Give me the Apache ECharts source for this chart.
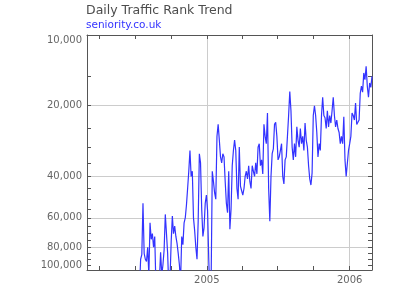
<!DOCTYPE html>
<html><head><meta charset="utf-8">
<script src="https://cdn.jsdelivr.net/npm/echarts@6/dist/echarts.min.js"></script>
<style>html,body{margin:0;padding:0;background:#fff}#c{width:400px;height:287px}</style>
</head><body><div id="c"></div>
<script>
const titleText = 'Daily Traffic Rank Trend';
const siteName = 'seniority.co.uk';
const startDate = [2004, 6, 10];   // 2004-07-10 (month is 0-based)
const stepDays = 3;
const ranks = [
140000,120000,90000,86000,52000,85000,90000,92000,80000,105000,
63000,74000,70000,80000,72000,115000,130000,125000,110000,84000,
105000,95000,82000,58000,70000,85000,120000,110000,76000,59000,
70000,65000,72000,77000,85000,95000,112000,72000,78000,63000,
60000,53000,45000,38000,31000,40000,38000,60000,68000,80000,
90000,62000,32000,35000,55000,72000,66000,52000,48000,56000,
90000,130000,115000,38000,42000,47000,50000,27000,24000,28000,
33000,35000,32000,33000,42000,52000,57000,38000,67000,55000,
36000,31000,28000,31000,45000,50000,30000,44000,46000,48000,
45000,40000,38000,41000,36000,42000,45000,36000,38000,40000,
35000,39000,30000,29000,36000,34000,39000,24000,27000,29000,
21500,45000,62000,40000,32000,30500,24000,23500,27000,34000,
33000,31000,29000,40000,43000,34000,33000,27000,22000,17400,
21000,30000,34000,29000,33000,24600,28000,30000,25000,29000,
27000,31000,23700,28000,30000,36000,41000,43500,38600,22000,
20000,22000,26000,33000,29000,31000,22000,18400,22000,22500,
25000,21000,24600,22000,23700,21000,18400,22000,24600,23000,
25000,26000,29000,27000,29000,22300,34000,40000,40500,31000,
29000,27000,21500,22000,23000,19500,24000,23500,23000,17700,
16500,17500,14500,15500,13600,16500,18400,16000,16700,15000
];
const xMinDate = [2004, 2, 1];
const xMaxDate = [2006, 1, 27];
const yearTickDates = [[2005, 0, 1], [2006, 0, 1]];
const quarterTickDates = [[2004,3,1],[2004,6,1],[2004,9,1],[2005,0,1],[2005,3,1],[2005,6,1],[2005,9,1],[2006,0,1]];
const yMin = 10000, yMax = 100000;
const yLabelValues = [10000, 20000, 40000, 60000, 80000, 100000];
const yGridValues = [20000, 40000, 60000, 80000];
const yTickValues = [10000,15000,20000,25000,30000,35000,40000,45000,50000,55000,60000,65000,70000,75000,80000,85000,90000,95000,100000];

const ts = d => new Date(d[0], d[1], d[2]).getTime();
const seriesData = ranks.map((v, i) => [new Date(startDate[0], startDate[1], startDate[2] + i * stepDays).getTime(), v]);
const yearTicks = yearTickDates.map(ts);
const quarterTicks = quarterTickDates.map(ts);

const FONT = 'DejaVu Sans';
const FRAME = '#555555';
const GRID = '#cccccc';
const fmtNum = v => String(Math.round(v)).replace(/\B(?=(\d{3})+(?!\d))/g, ',');

const baseX = { type: 'value', min: ts(xMinDate), max: ts(xMaxDate), gridIndex: 0, scale: true };
const baseY = { type: 'log', logBase: 10, min: yMin, max: yMax, inverse: true, gridIndex: 0 };

const chart = echarts.init(document.getElementById('c'), null, { renderer: 'canvas' });
chart.setOption({
  animation: false,
  backgroundColor: '#ffffff',
  title: {
    text: titleText, subtext: siteName, left: 84, top: 2, itemGap: 3, padding: [2, 2, 2, 2],
    textStyle: { fontFamily: FONT, fontSize: 12.5, fontWeight: 'normal', color: '#4d4d4d' },
    subtextStyle: { fontFamily: FONT, fontSize: 10.5, color: '#3333ff' }
  },
  grid: { left: 87, right: 28, top: 35, bottom: 17, containLabel: false, outerBoundsMode: 'none' },
  xAxis: [
    Object.assign({}, baseX, {
      position: 'bottom',
      axisLine: { show: true, onZero: false, lineStyle: { color: FRAME, width: 1 } },
      axisTick: { show: true, inside: true, length: 4, customValues: quarterTicks, lineStyle: { color: FRAME } },
      axisLabel: { show: true, customValues: yearTicks, margin: 5, fontFamily: FONT, fontSize: 10, color: '#666666',
        formatter: v => String(new Date(v).getFullYear()) },
      splitLine: { show: false }
    }),
    Object.assign({}, baseX, {
      position: 'bottom',
      axisLine: { show: false },
      axisTick: { show: false, customValues: yearTicks },
      axisLabel: { show: false },
      splitLine: { show: true, lineStyle: { color: GRID, width: 1 } }
    }),
    Object.assign({}, baseX, {
      position: 'top',
      axisLine: { show: true, onZero: false, lineStyle: { color: FRAME, width: 1 } },
      axisTick: { show: true, inside: true, length: 4, customValues: quarterTicks, lineStyle: { color: FRAME } },
      axisLabel: { show: false },
      splitLine: { show: false }
    })
  ],
  yAxis: [
    Object.assign({}, baseY, {
      position: 'left',
      axisLine: { show: true, onZero: false, lineStyle: { color: FRAME, width: 1 } },
      axisTick: { show: true, inside: true, length: 4, customValues: yTickValues, lineStyle: { color: FRAME } },
      axisLabel: { show: true, customValues: yLabelValues, margin: 5, fontFamily: FONT, fontSize: 10, color: '#666666',
        formatter: v => fmtNum(v), verticalAlignMinLabel: 'top', verticalAlignMaxLabel: 'bottom' },
      splitLine: { show: false }
    }),
    Object.assign({}, baseY, {
      position: 'left',
      axisLine: { show: false },
      axisTick: { show: false, customValues: yGridValues },
      axisLabel: { show: false },
      splitLine: { show: true, lineStyle: { color: GRID, width: 1 } }
    }),
    Object.assign({}, baseY, {
      position: 'right',
      axisLine: { show: true, onZero: false, lineStyle: { color: FRAME, width: 1 } },
      axisTick: { show: true, inside: true, length: 4, customValues: yTickValues, lineStyle: { color: FRAME } },
      axisLabel: { show: false },
      splitLine: { show: false }
    })
  ],
  series: [{
    type: 'line', xAxisIndex: 0, yAxisIndex: 0, data: seriesData,
    showSymbol: false, symbol: 'none', clip: true,
    lineStyle: { color: '#3333ff', width: 1.2 }
  }]
});
</script>
</body></html>
